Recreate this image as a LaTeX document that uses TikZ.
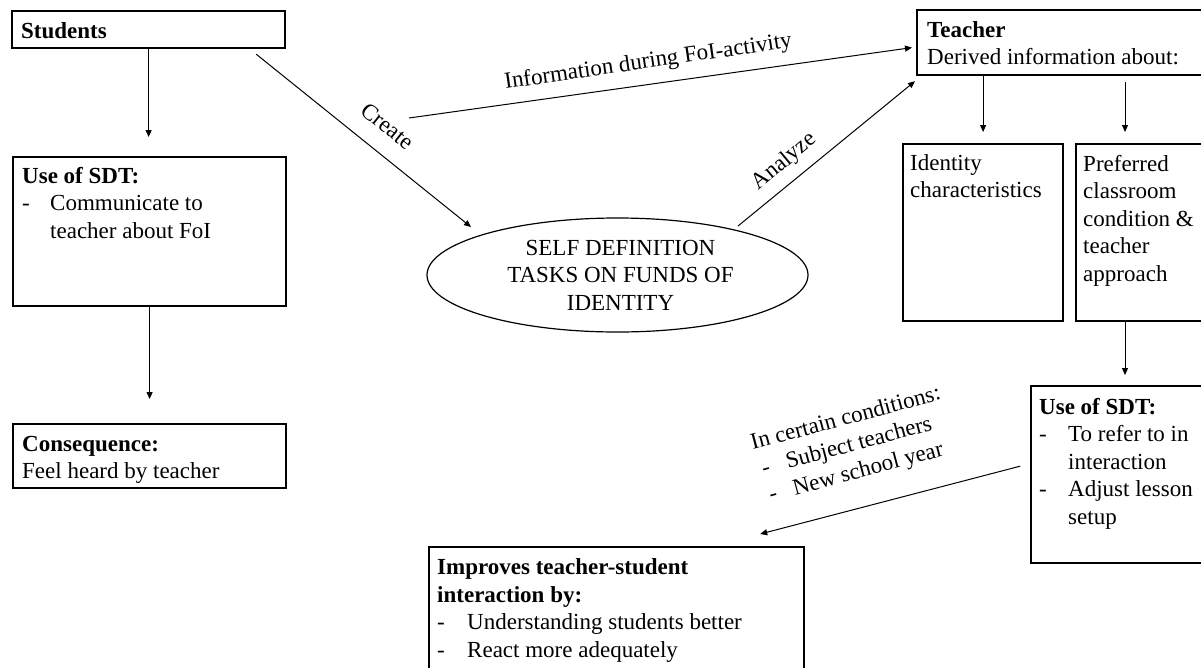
\documentclass[tikz,border=0pt]{standalone}
\usepackage{fontspec}
\setmainfont{Liberation Serif}
\usetikzlibrary{arrows.meta,shapes.geometric}
\newcommand\fs{\fontsize{23pt}{27.5pt}\selectfont}
\newcommand\dsh[1]{\makebox[#1][l]{-}}
\begin{document}
\begin{tikzpicture}[x=1pt,y=-1pt,
  box/.style={draw=black,line width=2.2pt,inner sep=0pt,anchor=north west},
  txt/.style={inner sep=0pt,anchor=base west,align=left,font=\fs},
  lbl/.style={inner sep=0pt,font=\fs},
  arr/.style={draw=black,line width=1pt,-{Triangle[length=7pt,width=6pt]}}]
\clip (0,0) rectangle (1201,667);
\fill[white] (0,0) rectangle (1201,667);

% boxes
\node[box,minimum width=273pt,minimum height=37pt] (students) at (11,10) {};
\node[box,minimum width=273pt,minimum height=149pt] (sdtL) at (12,156) {};
\node[box,minimum width=273pt,minimum height=64pt] (cons) at (12,423) {};
\node[box,minimum width=294pt,minimum height=65pt] (teacher) at (916,9) {};
\node[box,minimum width=160pt,minimum height=177pt] (ident) at (902,143) {};
\node[box,minimum width=135pt,minimum height=177pt] (pref) at (1075,143) {};
\node[box,minimum width=180pt,minimum height=177pt] (sdtR) at (1030,385) {};
\node[box,minimum width=375pt,minimum height=134pt] (improv) at (428,546) {};
\node[draw=black,line width=1.2pt,ellipse,minimum width=381pt,minimum height=114pt,
  inner sep=0pt,align=center,font=\fs] (ell) at (617.5,275)
  {\hspace*{6pt}SELF DEFINITION\\\hspace*{6pt}TASKS ON FUNDS OF\\\hspace*{6pt}IDENTITY};

% texts (anchor = baseline of the last line)
\node[txt] (studentsT) at (21,38) {\textbf{Students}};
\node[txt] (sdtLT) at (22,238) {\textbf{Use of SDT:}\\\dsh{28pt}Communicate to\\\hspace*{28pt}teacher about FoI};
\node[txt] (consT) at (22,478.5) {\textbf{Consequence:}\\Feel heard by teacher};
\node[txt] (teacherT) at (927,64.5) {\textbf{Teacher}\\Derived information about:};
\node[txt] (identT) at (910,197.5) {Identity\\characteristics};
\node[txt] (prefT) at (1083,281) {Preferred\\classroom\\condition \&\\teacher\\approach};
\node[txt] (sdtRT) at (1039,524) {\textbf{Use of SDT:}\\\dsh{29pt}To refer to in\\\hspace*{29pt}interaction\\\dsh{29pt}Adjust lesson\\\hspace*{29pt}setup};
\node[txt] (improvT) at (437,657) {\textbf{Improves teacher-student}\\\textbf{interaction by:}\\\dsh{30pt}Understanding students better\\\dsh{30pt}React more adequately};

% connectors
\coordinate (pcol) at (1125,0);
\coordinate (info0) at (409,118);
\draw[arr,shorten >=19pt] (students.south) -- (students.south |- sdtL.north);
\draw[arr,shorten >=24pt] (sdtL.south) -- (sdtL.south |- cons.north);
\draw[arr] ([xshift=-30pt,yshift=-5pt]students.south east) -- ([xshift=-146.5pt,yshift=48pt]ell.center);
\draw[arr] (info0) -- ([xshift=-4pt,yshift=-5pt]teacher.west);
\draw[arr] ([xshift=120.5pt,yshift=49pt]ell.center) -- ([xshift=-1pt,yshift=-5pt]teacher.south west);
\draw[arr,shorten >=11pt] (ident.north |- teacher.south) -- (ident.north);
\draw[arr,shorten <=6pt,shorten >=11pt] (teacher.south -| pcol) -- (pref.north -| pcol);
\draw[arr,shorten >=10pt] (pref.south -| pcol) -- (sdtR.north -| pcol);
\draw[arr,shorten <=10pt] ([yshift=11pt]sdtR.west) -- ([xshift=-45pt,yshift=12pt]improv.north east);

% labels
\node[lbl,rotate=-38.7] (lcreate) at (388,126) {Create};
\node[lbl,rotate=8.3,anchor=base] (linfo) at (649,68) {Information during FoI-activity};
\node[lbl,rotate=40,anchor=base] (lanalyze) at (788,166) {Analyze};
\node[lbl,rotate=15,anchor=base west,align=left] (lcond) at (767,503)
  {In certain conditions:\\\hspace*{4pt}\dsh{25pt}Subject teachers\\\hspace*{4pt}\dsh{25pt}New school year};
\end{tikzpicture}
\end{document}
